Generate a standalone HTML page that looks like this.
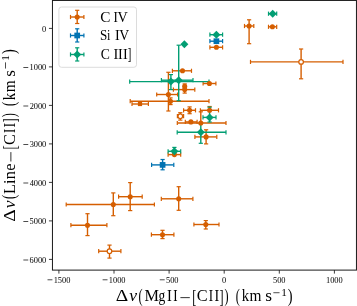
<!DOCTYPE html><html><head><meta charset="utf-8"><style>
html,body{margin:0;padding:0;background:#fff;}
body{width:357px;height:306px;overflow:hidden;position:relative;}
svg{position:absolute;left:0;top:0;will-change:transform;filter:blur(0.3px);}
text{font-family:"Liberation Serif",serif;fill:#000;}
</style></head><body>
<svg width="357" height="306" viewBox="0 0 357 306">
<rect x="0" y="0" width="357" height="306" fill="#fff"/>
<line x1="244.5" y1="26" x2="253.8" y2="26" stroke="#D55E00" stroke-width="1.4"/>
<line x1="244.5" y1="23.9" x2="244.5" y2="28.1" stroke="#D55E00" stroke-width="1.2"/>
<line x1="253.8" y1="23.9" x2="253.8" y2="28.1" stroke="#D55E00" stroke-width="1.2"/>
<line x1="249.1" y1="19.8" x2="249.1" y2="43.7" stroke="#D55E00" stroke-width="1.4"/>
<line x1="247" y1="19.8" x2="251.2" y2="19.8" stroke="#D55E00" stroke-width="1.2"/>
<line x1="247" y1="43.7" x2="251.2" y2="43.7" stroke="#D55E00" stroke-width="1.2"/>
<line x1="268.5" y1="26.8" x2="276.7" y2="26.8" stroke="#D55E00" stroke-width="1.4"/>
<line x1="268.5" y1="24.7" x2="268.5" y2="28.9" stroke="#D55E00" stroke-width="1.2"/>
<line x1="276.7" y1="24.7" x2="276.7" y2="28.9" stroke="#D55E00" stroke-width="1.2"/>
<line x1="209.9" y1="47.3" x2="222.6" y2="47.3" stroke="#D55E00" stroke-width="1.4"/>
<line x1="209.9" y1="45.2" x2="209.9" y2="49.4" stroke="#D55E00" stroke-width="1.2"/>
<line x1="222.6" y1="45.2" x2="222.6" y2="49.4" stroke="#D55E00" stroke-width="1.2"/>
<line x1="250.5" y1="61.9" x2="343" y2="61.9" stroke="#D55E00" stroke-width="1.4"/>
<line x1="250.5" y1="59.8" x2="250.5" y2="64" stroke="#D55E00" stroke-width="1.2"/>
<line x1="343" y1="59.8" x2="343" y2="64" stroke="#D55E00" stroke-width="1.2"/>
<line x1="301.1" y1="49" x2="301.1" y2="78.8" stroke="#D55E00" stroke-width="1.4"/>
<line x1="299" y1="49" x2="303.2" y2="49" stroke="#D55E00" stroke-width="1.2"/>
<line x1="299" y1="78.8" x2="303.2" y2="78.8" stroke="#D55E00" stroke-width="1.2"/>
<line x1="172.4" y1="70.8" x2="191.5" y2="70.8" stroke="#D55E00" stroke-width="1.4"/>
<line x1="172.4" y1="68.7" x2="172.4" y2="72.9" stroke="#D55E00" stroke-width="1.2"/>
<line x1="191.5" y1="68.7" x2="191.5" y2="72.9" stroke="#D55E00" stroke-width="1.2"/>
<line x1="156.7" y1="94.5" x2="177.6" y2="94.5" stroke="#D55E00" stroke-width="1.4"/>
<line x1="156.7" y1="92.4" x2="156.7" y2="96.6" stroke="#D55E00" stroke-width="1.2"/>
<line x1="177.6" y1="92.4" x2="177.6" y2="96.6" stroke="#D55E00" stroke-width="1.2"/>
<line x1="168.4" y1="72.3" x2="168.4" y2="111" stroke="#D55E00" stroke-width="1.4"/>
<line x1="166.3" y1="72.3" x2="170.5" y2="72.3" stroke="#D55E00" stroke-width="1.2"/>
<line x1="166.3" y1="111" x2="170.5" y2="111" stroke="#D55E00" stroke-width="1.2"/>
<line x1="130.2" y1="101.2" x2="209" y2="101.2" stroke="#D55E00" stroke-width="1.4"/>
<line x1="130.2" y1="99.1" x2="130.2" y2="103.3" stroke="#D55E00" stroke-width="1.2"/>
<line x1="209" y1="99.1" x2="209" y2="103.3" stroke="#D55E00" stroke-width="1.2"/>
<line x1="170.5" y1="97.9" x2="170.5" y2="104.6" stroke="#D55E00" stroke-width="1.4"/>
<line x1="168.4" y1="97.9" x2="172.6" y2="97.9" stroke="#D55E00" stroke-width="1.2"/>
<line x1="168.4" y1="104.6" x2="172.6" y2="104.6" stroke="#D55E00" stroke-width="1.2"/>
<line x1="132" y1="104" x2="148.4" y2="104" stroke="#D55E00" stroke-width="1.4"/>
<line x1="132" y1="101.9" x2="132" y2="106.1" stroke="#D55E00" stroke-width="1.2"/>
<line x1="148.4" y1="101.9" x2="148.4" y2="106.1" stroke="#D55E00" stroke-width="1.2"/>
<line x1="184.7" y1="83.9" x2="184.7" y2="86.4" stroke="#D55E00" stroke-width="1.4"/>
<line x1="182.6" y1="83.9" x2="186.8" y2="83.9" stroke="#D55E00" stroke-width="1.2"/>
<line x1="173.4" y1="89.6" x2="194.8" y2="89.6" stroke="#D55E00" stroke-width="1.4"/>
<line x1="173.4" y1="87.5" x2="173.4" y2="91.7" stroke="#D55E00" stroke-width="1.2"/>
<line x1="194.8" y1="87.5" x2="194.8" y2="91.7" stroke="#D55E00" stroke-width="1.2"/>
<line x1="184.7" y1="89.6" x2="184.7" y2="93.1" stroke="#D55E00" stroke-width="1.4"/>
<line x1="182.6" y1="93.1" x2="186.8" y2="93.1" stroke="#D55E00" stroke-width="1.2"/>
<line x1="203.1" y1="83.5" x2="215.9" y2="83.5" stroke="#D55E00" stroke-width="1.4"/>
<line x1="203.1" y1="81.4" x2="203.1" y2="85.6" stroke="#D55E00" stroke-width="1.2"/>
<line x1="215.9" y1="81.4" x2="215.9" y2="85.6" stroke="#D55E00" stroke-width="1.2"/>
<line x1="183.6" y1="110.3" x2="195.5" y2="110.3" stroke="#D55E00" stroke-width="1.4"/>
<line x1="183.6" y1="108.2" x2="183.6" y2="112.4" stroke="#D55E00" stroke-width="1.2"/>
<line x1="195.5" y1="108.2" x2="195.5" y2="112.4" stroke="#D55E00" stroke-width="1.2"/>
<line x1="189.6" y1="106.9" x2="189.6" y2="113.7" stroke="#D55E00" stroke-width="1.4"/>
<line x1="187.5" y1="106.9" x2="191.7" y2="106.9" stroke="#D55E00" stroke-width="1.2"/>
<line x1="187.5" y1="113.7" x2="191.7" y2="113.7" stroke="#D55E00" stroke-width="1.2"/>
<line x1="177.4" y1="116.2" x2="183.6" y2="116.2" stroke="#D55E00" stroke-width="1.4"/>
<line x1="177.4" y1="114.1" x2="177.4" y2="118.3" stroke="#D55E00" stroke-width="1.2"/>
<line x1="183.6" y1="114.1" x2="183.6" y2="118.3" stroke="#D55E00" stroke-width="1.2"/>
<line x1="180.3" y1="112.7" x2="180.3" y2="120.1" stroke="#D55E00" stroke-width="1.4"/>
<line x1="178.2" y1="112.7" x2="182.4" y2="112.7" stroke="#D55E00" stroke-width="1.2"/>
<line x1="178.2" y1="120.1" x2="182.4" y2="120.1" stroke="#D55E00" stroke-width="1.2"/>
<line x1="185.3" y1="121.9" x2="197.1" y2="121.9" stroke="#D55E00" stroke-width="1.4"/>
<line x1="185.3" y1="119.8" x2="185.3" y2="124" stroke="#D55E00" stroke-width="1.2"/>
<line x1="197.1" y1="119.8" x2="197.1" y2="124" stroke="#D55E00" stroke-width="1.2"/>
<line x1="177.3" y1="123" x2="226" y2="123" stroke="#D55E00" stroke-width="1.4"/>
<line x1="177.3" y1="120.9" x2="177.3" y2="125.1" stroke="#D55E00" stroke-width="1.2"/>
<line x1="226" y1="120.9" x2="226" y2="125.1" stroke="#D55E00" stroke-width="1.2"/>
<line x1="200.8" y1="111.8" x2="200.8" y2="123" stroke="#D55E00" stroke-width="1.4"/>
<line x1="198.7" y1="111.8" x2="202.9" y2="111.8" stroke="#D55E00" stroke-width="1.2"/>
<line x1="194.9" y1="136.9" x2="216.8" y2="136.9" stroke="#D55E00" stroke-width="1.4"/>
<line x1="194.9" y1="134.8" x2="194.9" y2="139" stroke="#D55E00" stroke-width="1.2"/>
<line x1="216.8" y1="134.8" x2="216.8" y2="139" stroke="#D55E00" stroke-width="1.2"/>
<line x1="206.1" y1="129.8" x2="206.1" y2="143.9" stroke="#D55E00" stroke-width="1.4"/>
<line x1="204" y1="129.8" x2="208.2" y2="129.8" stroke="#D55E00" stroke-width="1.2"/>
<line x1="204" y1="143.9" x2="208.2" y2="143.9" stroke="#D55E00" stroke-width="1.2"/>
<line x1="200.4" y1="110.3" x2="218.5" y2="110.3" stroke="#D55E00" stroke-width="1.4"/>
<line x1="200.4" y1="108.2" x2="200.4" y2="112.4" stroke="#D55E00" stroke-width="1.2"/>
<line x1="218.5" y1="108.2" x2="218.5" y2="112.4" stroke="#D55E00" stroke-width="1.2"/>
<line x1="209.6" y1="106.5" x2="209.6" y2="110.3" stroke="#D55E00" stroke-width="1.4"/>
<line x1="207.5" y1="106.5" x2="211.7" y2="106.5" stroke="#D55E00" stroke-width="1.2"/>
<line x1="168.1" y1="154.6" x2="180.7" y2="154.6" stroke="#D55E00" stroke-width="1.4"/>
<line x1="168.1" y1="152.5" x2="168.1" y2="156.7" stroke="#D55E00" stroke-width="1.2"/>
<line x1="180.7" y1="152.5" x2="180.7" y2="156.7" stroke="#D55E00" stroke-width="1.2"/>
<line x1="66.2" y1="204.5" x2="154.4" y2="204.5" stroke="#D55E00" stroke-width="1.4"/>
<line x1="66.2" y1="202.4" x2="66.2" y2="206.6" stroke="#D55E00" stroke-width="1.2"/>
<line x1="154.4" y1="202.4" x2="154.4" y2="206.6" stroke="#D55E00" stroke-width="1.2"/>
<line x1="113.3" y1="192.9" x2="113.3" y2="215.7" stroke="#D55E00" stroke-width="1.4"/>
<line x1="111.2" y1="192.9" x2="115.4" y2="192.9" stroke="#D55E00" stroke-width="1.2"/>
<line x1="111.2" y1="215.7" x2="115.4" y2="215.7" stroke="#D55E00" stroke-width="1.2"/>
<line x1="118.6" y1="196.7" x2="142.2" y2="196.7" stroke="#D55E00" stroke-width="1.4"/>
<line x1="118.6" y1="194.6" x2="118.6" y2="198.8" stroke="#D55E00" stroke-width="1.2"/>
<line x1="142.2" y1="194.6" x2="142.2" y2="198.8" stroke="#D55E00" stroke-width="1.2"/>
<line x1="130.2" y1="182.6" x2="130.2" y2="210.6" stroke="#D55E00" stroke-width="1.4"/>
<line x1="128.1" y1="182.6" x2="132.3" y2="182.6" stroke="#D55E00" stroke-width="1.2"/>
<line x1="128.1" y1="210.6" x2="132.3" y2="210.6" stroke="#D55E00" stroke-width="1.2"/>
<line x1="161.3" y1="198.8" x2="192.9" y2="198.8" stroke="#D55E00" stroke-width="1.4"/>
<line x1="161.3" y1="196.7" x2="161.3" y2="200.9" stroke="#D55E00" stroke-width="1.2"/>
<line x1="192.9" y1="196.7" x2="192.9" y2="200.9" stroke="#D55E00" stroke-width="1.2"/>
<line x1="178.7" y1="186.7" x2="178.7" y2="210.3" stroke="#D55E00" stroke-width="1.4"/>
<line x1="176.6" y1="186.7" x2="180.8" y2="186.7" stroke="#D55E00" stroke-width="1.2"/>
<line x1="176.6" y1="210.3" x2="180.8" y2="210.3" stroke="#D55E00" stroke-width="1.2"/>
<line x1="70.9" y1="225.2" x2="106.9" y2="225.2" stroke="#D55E00" stroke-width="1.4"/>
<line x1="70.9" y1="223.1" x2="70.9" y2="227.3" stroke="#D55E00" stroke-width="1.2"/>
<line x1="106.9" y1="223.1" x2="106.9" y2="227.3" stroke="#D55E00" stroke-width="1.2"/>
<line x1="87.5" y1="213.7" x2="87.5" y2="235.6" stroke="#D55E00" stroke-width="1.4"/>
<line x1="85.4" y1="213.7" x2="89.6" y2="213.7" stroke="#D55E00" stroke-width="1.2"/>
<line x1="85.4" y1="235.6" x2="89.6" y2="235.6" stroke="#D55E00" stroke-width="1.2"/>
<line x1="151.4" y1="234.7" x2="173.9" y2="234.7" stroke="#D55E00" stroke-width="1.4"/>
<line x1="151.4" y1="232.6" x2="151.4" y2="236.8" stroke="#D55E00" stroke-width="1.2"/>
<line x1="173.9" y1="232.6" x2="173.9" y2="236.8" stroke="#D55E00" stroke-width="1.2"/>
<line x1="162.5" y1="230.3" x2="162.5" y2="238.6" stroke="#D55E00" stroke-width="1.4"/>
<line x1="160.4" y1="230.3" x2="164.6" y2="230.3" stroke="#D55E00" stroke-width="1.2"/>
<line x1="160.4" y1="238.6" x2="164.6" y2="238.6" stroke="#D55E00" stroke-width="1.2"/>
<line x1="193.9" y1="224.5" x2="219" y2="224.5" stroke="#D55E00" stroke-width="1.4"/>
<line x1="193.9" y1="222.4" x2="193.9" y2="226.6" stroke="#D55E00" stroke-width="1.2"/>
<line x1="219" y1="222.4" x2="219" y2="226.6" stroke="#D55E00" stroke-width="1.2"/>
<line x1="205.8" y1="220.6" x2="205.8" y2="229" stroke="#D55E00" stroke-width="1.4"/>
<line x1="203.7" y1="220.6" x2="207.9" y2="220.6" stroke="#D55E00" stroke-width="1.2"/>
<line x1="203.7" y1="229" x2="207.9" y2="229" stroke="#D55E00" stroke-width="1.2"/>
<line x1="98.7" y1="251.2" x2="120.9" y2="251.2" stroke="#D55E00" stroke-width="1.4"/>
<line x1="98.7" y1="249.1" x2="98.7" y2="253.3" stroke="#D55E00" stroke-width="1.2"/>
<line x1="120.9" y1="249.1" x2="120.9" y2="253.3" stroke="#D55E00" stroke-width="1.2"/>
<line x1="109.5" y1="245.1" x2="109.5" y2="258.1" stroke="#D55E00" stroke-width="1.4"/>
<line x1="107.4" y1="245.1" x2="111.6" y2="245.1" stroke="#D55E00" stroke-width="1.2"/>
<line x1="107.4" y1="258.1" x2="111.6" y2="258.1" stroke="#D55E00" stroke-width="1.2"/>
<line x1="209.9" y1="41.2" x2="222.6" y2="41.2" stroke="#0173B2" stroke-width="1.4"/>
<line x1="209.9" y1="39.1" x2="209.9" y2="43.3" stroke="#0173B2" stroke-width="1.2"/>
<line x1="222.6" y1="39.1" x2="222.6" y2="43.3" stroke="#0173B2" stroke-width="1.2"/>
<line x1="151.6" y1="164.9" x2="173.8" y2="164.9" stroke="#0173B2" stroke-width="1.4"/>
<line x1="151.6" y1="162.8" x2="151.6" y2="167" stroke="#0173B2" stroke-width="1.2"/>
<line x1="173.8" y1="162.8" x2="173.8" y2="167" stroke="#0173B2" stroke-width="1.2"/>
<line x1="162.6" y1="159.5" x2="162.6" y2="169.8" stroke="#0173B2" stroke-width="1.4"/>
<line x1="160.5" y1="159.5" x2="164.7" y2="159.5" stroke="#0173B2" stroke-width="1.2"/>
<line x1="160.5" y1="169.8" x2="164.7" y2="169.8" stroke="#0173B2" stroke-width="1.2"/>
<line x1="268.5" y1="13.7" x2="276.7" y2="13.7" stroke="#029E73" stroke-width="1.4"/>
<line x1="268.5" y1="11.6" x2="268.5" y2="15.8" stroke="#029E73" stroke-width="1.2"/>
<line x1="276.7" y1="11.6" x2="276.7" y2="15.8" stroke="#029E73" stroke-width="1.2"/>
<line x1="209.9" y1="34.7" x2="222.6" y2="34.7" stroke="#029E73" stroke-width="1.4"/>
<line x1="209.9" y1="32.6" x2="209.9" y2="36.8" stroke="#029E73" stroke-width="1.2"/>
<line x1="222.6" y1="32.6" x2="222.6" y2="36.8" stroke="#029E73" stroke-width="1.2"/>
<line x1="161.4" y1="80.2" x2="193" y2="80.2" stroke="#029E73" stroke-width="1.4"/>
<line x1="161.4" y1="78.1" x2="161.4" y2="82.3" stroke="#029E73" stroke-width="1.2"/>
<line x1="193" y1="78.1" x2="193" y2="82.3" stroke="#029E73" stroke-width="1.2"/>
<line x1="178.7" y1="45.2" x2="178.7" y2="100.7" stroke="#029E73" stroke-width="1.4"/>
<line x1="176.6" y1="45.2" x2="180.8" y2="45.2" stroke="#029E73" stroke-width="1.2"/>
<line x1="176.6" y1="100.7" x2="180.8" y2="100.7" stroke="#029E73" stroke-width="1.2"/>
<line x1="129.7" y1="81.6" x2="209" y2="81.6" stroke="#029E73" stroke-width="1.4"/>
<line x1="129.7" y1="79.5" x2="129.7" y2="83.7" stroke="#029E73" stroke-width="1.2"/>
<line x1="209" y1="79.5" x2="209" y2="83.7" stroke="#029E73" stroke-width="1.2"/>
<line x1="170.9" y1="74.6" x2="170.9" y2="89.6" stroke="#029E73" stroke-width="1.4"/>
<line x1="168.8" y1="74.6" x2="173" y2="74.6" stroke="#029E73" stroke-width="1.2"/>
<line x1="168.8" y1="89.6" x2="173" y2="89.6" stroke="#029E73" stroke-width="1.2"/>
<line x1="177.2" y1="132.3" x2="226" y2="132.3" stroke="#029E73" stroke-width="1.4"/>
<line x1="177.2" y1="130.2" x2="177.2" y2="134.4" stroke="#029E73" stroke-width="1.2"/>
<line x1="226" y1="130.2" x2="226" y2="134.4" stroke="#029E73" stroke-width="1.2"/>
<line x1="200.8" y1="123.6" x2="200.8" y2="143.3" stroke="#029E73" stroke-width="1.4"/>
<line x1="198.7" y1="123.6" x2="202.9" y2="123.6" stroke="#029E73" stroke-width="1.2"/>
<line x1="198.7" y1="143.3" x2="202.9" y2="143.3" stroke="#029E73" stroke-width="1.2"/>
<line x1="203" y1="117.4" x2="216" y2="117.4" stroke="#029E73" stroke-width="1.4"/>
<line x1="203" y1="115.3" x2="203" y2="119.5" stroke="#029E73" stroke-width="1.2"/>
<line x1="216" y1="115.3" x2="216" y2="119.5" stroke="#029E73" stroke-width="1.2"/>
<line x1="209.6" y1="107.2" x2="209.6" y2="122" stroke="#029E73" stroke-width="1.4"/>
<line x1="207.5" y1="107.2" x2="211.7" y2="107.2" stroke="#029E73" stroke-width="1.2"/>
<line x1="207.5" y1="122" x2="211.7" y2="122" stroke="#029E73" stroke-width="1.2"/>
<line x1="168.1" y1="151.3" x2="180.7" y2="151.3" stroke="#029E73" stroke-width="1.4"/>
<line x1="168.1" y1="149.2" x2="168.1" y2="153.4" stroke="#029E73" stroke-width="1.2"/>
<line x1="180.7" y1="149.2" x2="180.7" y2="153.4" stroke="#029E73" stroke-width="1.2"/>
<line x1="174.4" y1="147.4" x2="174.4" y2="151.3" stroke="#029E73" stroke-width="1.4"/>
<line x1="172.3" y1="147.4" x2="176.5" y2="147.4" stroke="#029E73" stroke-width="1.2"/>
<circle cx="249.1" cy="26" r="2.55" fill="#D55E00"/>
<circle cx="272.4" cy="26.8" r="2.55" fill="#D55E00"/>
<circle cx="216.4" cy="47.3" r="2.55" fill="#D55E00"/>
<circle cx="301.1" cy="61.9" r="2.3" fill="#fff" stroke="#D55E00" stroke-width="1.2"/>
<circle cx="182.5" cy="70.8" r="2.55" fill="#D55E00"/>
<circle cx="168.4" cy="94.5" r="2.55" fill="#D55E00"/>
<circle cx="170.5" cy="101.2" r="2.55" fill="#D55E00"/>
<rect x="137.9" y="101.9" width="4.2" height="4.2" fill="#D55E00"/>
<circle cx="184.7" cy="86.4" r="2.55" fill="#D55E00"/>
<circle cx="184.7" cy="89.6" r="2.55" fill="#D55E00"/>
<circle cx="209.4" cy="83.5" r="2.55" fill="#D55E00"/>
<circle cx="189.6" cy="110.3" r="2.55" fill="#D55E00"/>
<circle cx="180.3" cy="116.2" r="2.3" fill="#fff" stroke="#D55E00" stroke-width="1.2"/>
<circle cx="190.9" cy="121.9" r="2.55" fill="#D55E00"/>
<circle cx="200.8" cy="123" r="2.55" fill="#D55E00"/>
<circle cx="206.1" cy="136.9" r="2.55" fill="#D55E00"/>
<circle cx="209.6" cy="110.3" r="2.55" fill="#D55E00"/>
<circle cx="174.4" cy="154.6" r="2.55" fill="#D55E00"/>
<circle cx="113.3" cy="204.5" r="2.55" fill="#D55E00"/>
<circle cx="130.2" cy="196.7" r="2.55" fill="#D55E00"/>
<circle cx="178.7" cy="198.8" r="2.55" fill="#D55E00"/>
<circle cx="87.5" cy="225.2" r="2.55" fill="#D55E00"/>
<circle cx="162.5" cy="234.7" r="2.55" fill="#D55E00"/>
<circle cx="205.8" cy="224.5" r="2.55" fill="#D55E00"/>
<circle cx="109.5" cy="251.2" r="2.3" fill="#fff" stroke="#D55E00" stroke-width="1.2"/>
<rect x="213.55" y="38.35" width="5.7" height="5.7" fill="#0173B2"/>
<rect x="159.75" y="162.05" width="5.7" height="5.7" fill="#0173B2"/>
<path d="M272.7 9.7L276.7 13.7L272.7 17.7L268.7 13.7Z" fill="#029E73"/>
<path d="M216.4 30.7L220.4 34.7L216.4 38.7L212.4 34.7Z" fill="#029E73"/>
<path d="M184.4 40.2L188.4 44.2L184.4 48.2L180.4 44.2Z" fill="#029E73"/>
<path d="M178.7 76.2L182.7 80.2L178.7 84.2L174.7 80.2Z" fill="#029E73"/>
<path d="M170.9 77.6L174.9 81.6L170.9 85.6L166.9 81.6Z" fill="#029E73"/>
<path d="M200.8 128.3L204.8 132.3L200.8 136.3L196.8 132.3Z" fill="#029E73"/>
<path d="M209.6 113.4L213.6 117.4L209.6 121.4L205.6 117.4Z" fill="#029E73"/>
<path d="M174.4 147.3L178.4 151.3L174.4 155.3L170.4 151.3Z" fill="#029E73"/>
<rect x="52.45" y="0.45" width="304" height="269.65" fill="none" stroke="#1a1a1a" stroke-width="1.0"/>
<line x1="58.9" y1="270.1" x2="58.9" y2="273.6" stroke="#1a1a1a" stroke-width="0.85"/>
<text x="53.71" y="282.60" font-size="8.4" fill="#000">1</text>
<text x="57.87" y="282.60" font-size="8.4" fill="#000">5</text>
<text x="62.07" y="282.60" font-size="8.4" fill="#000">0</text>
<text x="66.20" y="282.60" font-size="8.4" fill="#000">0</text>
<rect x="47.51" y="279.50" width="4.90" height="0.70" fill="#000"/>
<line x1="114" y1="270.1" x2="114" y2="273.6" stroke="#1a1a1a" stroke-width="0.85"/>
<text x="108.81" y="282.60" font-size="8.4" fill="#000">1</text>
<text x="113.05" y="282.60" font-size="8.4" fill="#000">0</text>
<text x="117.17" y="282.60" font-size="8.4" fill="#000">0</text>
<text x="121.30" y="282.60" font-size="8.4" fill="#000">0</text>
<rect x="102.61" y="279.50" width="4.90" height="0.70" fill="#000"/>
<line x1="169.1" y1="270.1" x2="169.1" y2="273.6" stroke="#1a1a1a" stroke-width="0.85"/>
<text x="166.01" y="282.60" font-size="8.4" fill="#000">5</text>
<text x="170.21" y="282.60" font-size="8.4" fill="#000">0</text>
<text x="174.33" y="282.60" font-size="8.4" fill="#000">0</text>
<rect x="159.77" y="279.50" width="4.90" height="0.70" fill="#000"/>
<line x1="224.2" y1="270.1" x2="224.2" y2="273.6" stroke="#1a1a1a" stroke-width="0.85"/>
<text x="222.10" y="282.60" font-size="8.4" fill="#000">0</text>
<line x1="279.3" y1="270.1" x2="279.3" y2="273.6" stroke="#1a1a1a" stroke-width="0.85"/>
<text x="273.00" y="282.60" font-size="8.4" fill="#000">5</text>
<text x="277.20" y="282.60" font-size="8.4" fill="#000">0</text>
<text x="281.32" y="282.60" font-size="8.4" fill="#000">0</text>
<line x1="334.4" y1="270.1" x2="334.4" y2="273.6" stroke="#1a1a1a" stroke-width="0.85"/>
<text x="326.00" y="282.60" font-size="8.4" fill="#000">1</text>
<text x="330.24" y="282.60" font-size="8.4" fill="#000">0</text>
<text x="334.36" y="282.60" font-size="8.4" fill="#000">0</text>
<text x="338.49" y="282.60" font-size="8.4" fill="#000">0</text>
<line x1="48.95" y1="28.4" x2="52.45" y2="28.4" stroke="#1a1a1a" stroke-width="0.85"/>
<text x="42.04" y="31.75" font-size="8.4" fill="#000">0</text>
<line x1="48.95" y1="66.9" x2="52.45" y2="66.9" stroke="#1a1a1a" stroke-width="0.85"/>
<text x="29.55" y="70.25" font-size="8.4" fill="#000">1</text>
<text x="33.79" y="70.25" font-size="8.4" fill="#000">0</text>
<text x="37.91" y="70.25" font-size="8.4" fill="#000">0</text>
<text x="42.04" y="70.25" font-size="8.4" fill="#000">0</text>
<rect x="23.35" y="67.15" width="4.90" height="0.70" fill="#000"/>
<line x1="48.95" y1="105.4" x2="52.45" y2="105.4" stroke="#1a1a1a" stroke-width="0.85"/>
<text x="29.71" y="108.75" font-size="8.4" fill="#000">2</text>
<text x="33.79" y="108.75" font-size="8.4" fill="#000">0</text>
<text x="37.91" y="108.75" font-size="8.4" fill="#000">0</text>
<text x="42.04" y="108.75" font-size="8.4" fill="#000">0</text>
<rect x="23.35" y="105.65" width="4.90" height="0.70" fill="#000"/>
<line x1="48.95" y1="143.9" x2="52.45" y2="143.9" stroke="#1a1a1a" stroke-width="0.85"/>
<text x="29.63" y="147.25" font-size="8.4" fill="#000">3</text>
<text x="33.79" y="147.25" font-size="8.4" fill="#000">0</text>
<text x="37.91" y="147.25" font-size="8.4" fill="#000">0</text>
<text x="42.04" y="147.25" font-size="8.4" fill="#000">0</text>
<rect x="23.35" y="144.15" width="4.90" height="0.70" fill="#000"/>
<line x1="48.95" y1="182.4" x2="52.45" y2="182.4" stroke="#1a1a1a" stroke-width="0.85"/>
<text x="29.65" y="185.75" font-size="8.4" fill="#000">4</text>
<text x="33.79" y="185.75" font-size="8.4" fill="#000">0</text>
<text x="37.91" y="185.75" font-size="8.4" fill="#000">0</text>
<text x="42.04" y="185.75" font-size="8.4" fill="#000">0</text>
<rect x="23.35" y="182.65" width="4.90" height="0.70" fill="#000"/>
<line x1="48.95" y1="220.9" x2="52.45" y2="220.9" stroke="#1a1a1a" stroke-width="0.85"/>
<text x="29.58" y="224.25" font-size="8.4" fill="#000">5</text>
<text x="33.79" y="224.25" font-size="8.4" fill="#000">0</text>
<text x="37.91" y="224.25" font-size="8.4" fill="#000">0</text>
<text x="42.04" y="224.25" font-size="8.4" fill="#000">0</text>
<rect x="23.35" y="221.15" width="4.90" height="0.70" fill="#000"/>
<line x1="48.95" y1="259.4" x2="52.45" y2="259.4" stroke="#1a1a1a" stroke-width="0.85"/>
<text x="29.61" y="262.75" font-size="8.4" fill="#000">6</text>
<text x="33.79" y="262.75" font-size="8.4" fill="#000">0</text>
<text x="37.91" y="262.75" font-size="8.4" fill="#000">0</text>
<text x="42.04" y="262.75" font-size="8.4" fill="#000">0</text>
<rect x="23.35" y="259.65" width="4.90" height="0.70" fill="#000"/>
<text transform="translate(115.76,301.40) scale(1.189,1)" font-size="16.3" fill="#000">Δ</text>
<text transform="translate(129.26,301.40) scale(1.084,1)" font-size="16.3" font-style="italic" fill="#000">v</text>
<text transform="translate(138.59,301.65) scale(0.750,1.103)" font-size="16.3" fill="#000">(</text>
<text x="144.43" y="301.40" font-size="16.3" fill="#000">M</text>
<text transform="translate(158.62,301.40) scale(0.826,1)" font-size="16.3" fill="#000">g</text>
<text transform="translate(166.98,301.40) scale(0.891,1)" font-size="16.3" fill="#000">I</text>
<text transform="translate(173.33,301.40) scale(0.797,1)" font-size="16.3" fill="#000">I</text>
<rect x="180.40" y="297.30" width="9.40" height="0.80" fill="#000"/>
<text transform="translate(192.33,302.84) scale(0.750,1.208)" font-size="16.3" fill="#000">[</text>
<text x="196.83" y="301.40" font-size="16.3" fill="#000">C</text>
<text transform="translate(208.83,301.40) scale(0.797,1)" font-size="16.3" fill="#000">I</text>
<text transform="translate(214.49,301.40) scale(0.867,1)" font-size="16.3" fill="#000">I</text>
<text transform="translate(219.45,302.84) scale(0.750,1.208)" font-size="16.3" fill="#000">]</text>
<text transform="translate(224.54,301.65) scale(0.750,1.103)" font-size="16.3" fill="#000">)</text>
<text transform="translate(235.79,301.65) scale(0.750,1.103)" font-size="16.3" fill="#000">(</text>
<text transform="translate(241.72,301.40) scale(0.906,1)" font-size="16.3" fill="#000">k</text>
<text transform="translate(249.58,301.40) scale(0.944,1)" font-size="16.3" fill="#000">m</text>
<text transform="translate(265.19,301.40) scale(1.062,1)" font-size="16.3" fill="#000">s</text>
<rect x="273.35" y="292.45" width="6.20" height="0.70" fill="#000"/>
<text x="281.17" y="295.80" font-size="11.3" fill="#000">1</text>
<text transform="translate(287.84,301.65) scale(0.884,1.103)" font-size="16.3" fill="#000">)</text>
<g transform="rotate(-90)">
<text transform="translate(-221.84,14.60) scale(1.189,1)" font-size="16.3" fill="#000">Δ</text>
<text transform="translate(-208.34,14.60) scale(1.084,1)" font-size="16.3" font-style="italic" fill="#000">v</text>
<text transform="translate(-199.01,14.85) scale(0.750,1.103)" font-size="16.3" fill="#000">(</text>
<text x="-193.92" y="14.60" font-size="16.3" fill="#000">L</text>
<text x="-183.96" y="14.60" font-size="16.3" fill="#000">i</text>
<text x="-179.14" y="14.60" font-size="16.3" fill="#000">n</text>
<text x="-170.66" y="14.60" font-size="16.3" fill="#000">e</text>
<rect x="-161.50" y="10.50" width="9.40" height="0.8" fill="#000"/>
<text transform="translate(-149.57,16.04) scale(0.750,1.208)" font-size="16.3" fill="#000">[</text>
<text x="-145.07" y="14.60" font-size="16.3" fill="#000">C</text>
<text transform="translate(-133.07,14.60) scale(0.797,1)" font-size="16.3" fill="#000">I</text>
<text transform="translate(-127.41,14.60) scale(0.867,1)" font-size="16.3" fill="#000">I</text>
<text transform="translate(-122.45,16.04) scale(0.750,1.208)" font-size="16.3" fill="#000">]</text>
<text transform="translate(-117.36,14.85) scale(0.750,1.103)" font-size="16.3" fill="#000">)</text>
<text transform="translate(-106.11,14.85) scale(0.750,1.103)" font-size="16.3" fill="#000">(</text>
<text transform="translate(-100.18,14.60) scale(0.906,1)" font-size="16.3" fill="#000">k</text>
<text transform="translate(-92.32,14.60) scale(0.944,1)" font-size="16.3" fill="#000">m</text>
<text transform="translate(-76.71,14.60) scale(1.062,1)" font-size="16.3" fill="#000">s</text>
<rect x="-68.55" y="5.15" width="6.20" height="0.7" fill="#000"/>
<text x="-60.73" y="8.50" font-size="11.3" fill="#000">1</text>
<text transform="translate(-54.06,14.85) scale(0.884,1.103)" font-size="16.3" fill="#000">)</text>
</g>
<rect x="58.9" y="7.0" width="77.6" height="60.3" rx="2.6" ry="2.6" fill="#fff" fill-opacity="0.8" stroke="#dcdcdc" stroke-width="1"/>
<line x1="70.5" y1="17" x2="83.9" y2="17" stroke="#D55E00" stroke-width="1.4"/>
<line x1="70.5" y1="14.9" x2="70.5" y2="19.1" stroke="#D55E00" stroke-width="1.2"/>
<line x1="83.9" y1="14.9" x2="83.9" y2="19.1" stroke="#D55E00" stroke-width="1.2"/>
<line x1="77.2" y1="10.3" x2="77.2" y2="23.5" stroke="#D55E00" stroke-width="1.4"/>
<line x1="75.1" y1="10.3" x2="79.3" y2="10.3" stroke="#D55E00" stroke-width="1.2"/>
<line x1="75.1" y1="23.5" x2="79.3" y2="23.5" stroke="#D55E00" stroke-width="1.2"/>
<circle cx="77.2" cy="17" r="2.55" fill="#D55E00"/>
<line x1="70.5" y1="35.5" x2="83.9" y2="35.5" stroke="#0173B2" stroke-width="1.4"/>
<line x1="70.5" y1="33.4" x2="70.5" y2="37.6" stroke="#0173B2" stroke-width="1.2"/>
<line x1="83.9" y1="33.4" x2="83.9" y2="37.6" stroke="#0173B2" stroke-width="1.2"/>
<line x1="77.2" y1="28.8" x2="77.2" y2="42" stroke="#0173B2" stroke-width="1.4"/>
<line x1="75.1" y1="28.8" x2="79.3" y2="28.8" stroke="#0173B2" stroke-width="1.2"/>
<line x1="75.1" y1="42" x2="79.3" y2="42" stroke="#0173B2" stroke-width="1.2"/>
<rect x="74.35" y="32.65" width="5.7" height="5.7" fill="#0173B2"/>
<line x1="70.5" y1="54.5" x2="83.9" y2="54.5" stroke="#029E73" stroke-width="1.4"/>
<line x1="70.5" y1="52.4" x2="70.5" y2="56.6" stroke="#029E73" stroke-width="1.2"/>
<line x1="83.9" y1="52.4" x2="83.9" y2="56.6" stroke="#029E73" stroke-width="1.2"/>
<line x1="77.2" y1="47.8" x2="77.2" y2="61" stroke="#029E73" stroke-width="1.4"/>
<line x1="75.1" y1="47.8" x2="79.3" y2="47.8" stroke="#029E73" stroke-width="1.2"/>
<line x1="75.1" y1="61" x2="79.3" y2="61" stroke="#029E73" stroke-width="1.2"/>
<path d="M77.2 50.5L81.2 54.5L77.2 58.5L73.2 54.5Z" fill="#029E73"/>
<text transform="translate(100.37,21.80) scale(1.073,1)" font-size="14.2" fill="#000">C</text>
<text transform="translate(113.53,21.80) scale(0.915,1)" font-size="14.2" fill="#000">I</text>
<text x="117.44" y="21.80" font-size="14.2" fill="#000">V</text>
<text transform="translate(100.12,40.40) scale(0.923,1)" font-size="14.2" fill="#000">S</text>
<text transform="translate(107.04,40.40) scale(0.859,1)" font-size="14.2" fill="#000">i</text>
<text x="114.89" y="40.40" font-size="14.2" fill="#000">I</text>
<text transform="translate(119.25,40.40) scale(0.966,1)" font-size="14.2" fill="#000">V</text>
<text transform="translate(100.84,59.00) scale(0.962,1)" font-size="14.2" fill="#000">C</text>
<text transform="translate(113.48,59.00) scale(1.022,1)" font-size="14.2" fill="#000">I</text>
<text x="118.09" y="59.00" font-size="14.2" fill="#000">I</text>
<text x="123.09" y="59.00" font-size="14.2" fill="#000">I</text>
<text transform="translate(127.81,60.25) scale(0.759,1.208)" font-size="14.2" fill="#000">]</text>
</svg></body></html>
